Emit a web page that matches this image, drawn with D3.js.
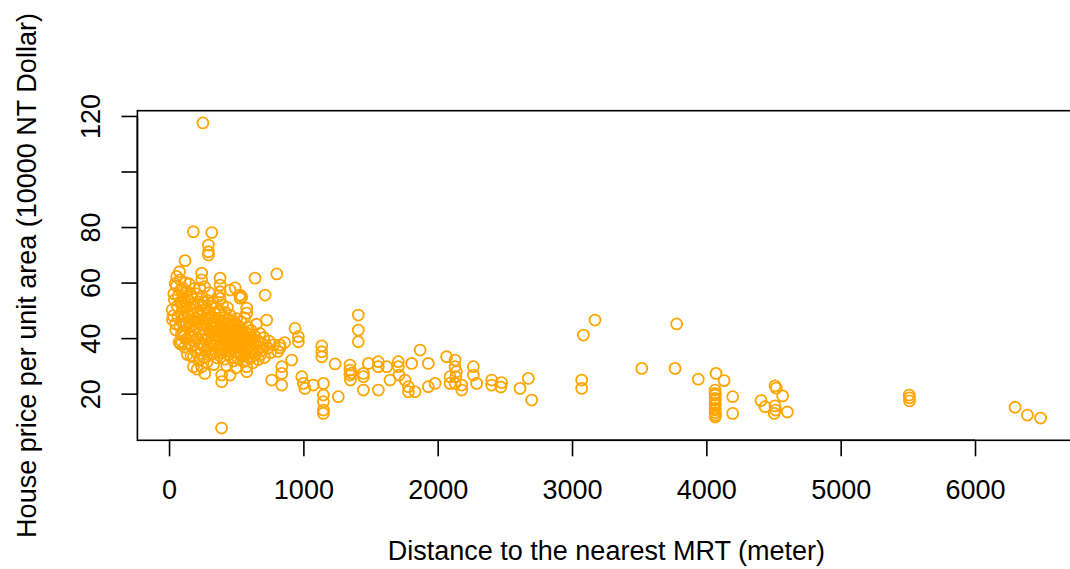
<!DOCTYPE html>
<html>
<head>
<meta charset="utf-8">
<script src="https://cdn.jsdelivr.net/npm/d3@7"></script>
<style>
  html, body { margin: 0; padding: 0; background: #fff; }
  svg text { font-family: "Liberation Sans", Arial, sans-serif; fill: #000; }
</style>
</head>
<body>
<div id="chart"></div>
<script>
// points: [distance to MRT (m), price per unit area]
var nearPoints = [
  [23,50.2],[25,46.6],[30,48.0],[35,56.0],[40,53.7],[45,59.6],[49,45.1],[50,42.9],[55,58.8],[57,62.2],
  [60,51.6],[65,47.7],[70,55.3],[75,38.5],[78,63.9],[80,44.3],[82,61.0],[84,37.9],[85,53.0],[88,57.4],
  [90,49.0],[90,41.2],[92,46.2],[95,38.7],[98,52.5],[100,58.1],[104,42.3],[105,55.2],[108,44.9],[110,50.7],
  [112,40.6],[115,36.8],[118,47.9],[119,67.9],[120,53.5],[122,60.0],[125,45.1],[128,39.6],[130,51.0],[133,56.8],
  [136,34.1],[140,48.5],[142,43.8],[145,53.8],[148,38.1],[150,59.5],[153,46.0],[156,41.1],[160,50.4],[163,33.6],
  [165,55.0],[168,44.2],[170,37.4],[172,48.8],[175,52.2],[178,40.3],[181,78.3],[181,33.3],[182,29.7],[185,46.1],
  [188,57.8],[190,42.5],[193,38.8],[195,51.2],[198,35.3],[200,47.0],[203,44.0],[205,55.9],[208,40.0],[210,28.8],
  [212,49.6],[215,36.4],[218,53.1],[220,45.7],[223,31.9],[225,42.0],[228,58.0],[230,38.2],[232,48.2],[235,34.5],
  [238,51.9],[240,44.8],[243,63.4],[243,61.0],[243,29.7],[245,40.7],[247,55.0],[250,46.5],[252,117.5],[254,37.1],
  [256,49.9],[258,33.0],[260,43.2],[262,52.8],[264,58.5],[266,27.3],[268,39.5],[270,47.4],[272,41.8],[275,35.6],
  [278,50.3],[280,44.6],[282,31.3],[285,53.6],[287,40.3],[290,37.0],[293,73.5],[293,71.1],[293,69.9],[295,46.9],
  [297,42.7],[299,56.4],[300,33.9],[302,49.1],[305,38.4],[306,42.2],[308,45.3],[310,51.5],[312,36.0],[315,41.5],
  [318,78.0],[318,47.8],[320,34.2],[322,43.5],[325,39.0],[328,53.0],[330,46.3],[332,30.5],[335,41.0],[338,48.9],
  [340,37.5],[342,44.1],[345,35.1],[348,50.8],[350,40.8],[352,45.7],[355,32.9],[358,42.4],[360,38.9],[362,47.1],
  [365,36.3],[368,55.1],[370,43.1],[372,39.7],[375,49.5],[377,37.4],[380,61.6],[380,59.1],[380,56.7],[380,54.3],
  [382,44.8],[385,34.6],[388,41.9],[390,46.0],[391,7.6],[392,26.7],[392,24.3],[395,38.1],[398,52.0],[400,42.9],
  [402,35.8],[405,47.3],[407,40.1],[410,44.7],[412,32.4],[415,37.8],[418,49.3],[420,41.3],[422,36.5],[425,45.4],
  [428,39.2],[430,30.0],[432,43.5],[435,51.0],[438,37.0],[440,41.6],[442,34.0],[445,46.6],[448,39.9],[450,43.9],
  [452,35.2],[454,57.3],[454,26.7],[456,48.2],[458,38.6],[460,42.0],[462,33.1],[465,44.7],[468,37.7],[470,40.9],
  [472,46.1],[475,36.2],[478,42.6],[480,31.8],[482,39.4],[485,45.3],[488,35.0],[490,41.1],[492,58.1],[494,37.3],
  [496,43.2],[498,29.3],[500,39.8],[503,47.0],[505,34.9],[508,41.5],[510,37.9],[512,44.5],[515,32.6],[518,40.2],
  [520,36.6],[523,43.0],[525,38.3],[527,55.5],[529,54.4],[530,34.3],[533,41.2],[535,45.9],[538,37.1],[540,33.7],
  [541,54.9],[543,39.6],[546,42.4],[548,35.8],[550,38.7],[553,31.5],[556,40.6],[558,36.9],[562,47.3],[565,39.0],
  [568,34.4],[570,42.2],[573,37.6],[575,32.0],[578,50.8],[578,49.0],[578,29.7],[578,27.9],[580,40.4],[583,36.1],
  [586,44.0],[590,38.2],[592,33.4],[595,41.3],[598,35.3],[600,39.5],[603,32.7],[606,37.2],[610,42.8],[613,34.8],
  [616,40.0],[620,36.4],[624,31.1],[628,38.7],[632,35.0],[636,40.8],[640,61.6],[642,33.8],[646,37.9],[650,45.0],
  [655,35.6],[660,39.1],[665,32.3],[670,36.8],[676,41.7],[682,34.1],[690,38.0],[698,35.7],[705,40.2],[710,33.0],
  [715,55.5],[720,37.3],[727,46.5],[735,36.4],[745,38.9],[755,34.7],[764,24.9],[780,37.6],[802,63.1],[810,35.2],
  [826,37.5],[826,36.5],[839,29.7],[839,27.3],[839,23.1],[860,38.4],[913,32.1],[938,43.5],[963,40.5],[963,38.7],
  [988,26.1],[1000,23.7],[1012,21.9],[1074,23.1]
];

var midPoints = [
  [1137,37.2],[1137,35.1],[1137,33.3],[1149,23.7],[1149,19.5],[1149,17.1],[1149,14.1],[1149,12.9],[1236,30.7],
  [1260,18.9],[1347,30.3],[1347,28.5],[1360,27.4],[1347,26.7],[1350,24.9],[1409,48.3],[1409,42.9],[1409,38.7],
  [1447,27.3],[1447,26.1],[1447,21.3],[1484,30.9],[1558,31.5],[1558,29.7],[1558,21.3],[1620,29.7],[1645,24.9],
  [1707,31.5],[1707,29.7],[1712,26.7],[1757,24.9],[1782,22.5],[1782,20.7],[1831,20.7],[1806,30.9],[1869,35.7],
  [1930,30.9],[1930,22.5],[1980,23.7],[2066,33.3],[2129,32.1],[2129,29.7],[2140,27.9],[2135,26.1],[2129,23.7],
  [2092,26.1],[2092,23.7],[2179,23.1],[2179,21.3],[2265,29.7],[2265,26.7],[2290,23.7],[2402,24.9],[2402,23.1],
  [2476,24.0],[2470,22.4],[2613,21.9],[2675,25.5],[2700,17.7],[3072,24.9],[3072,21.9],[3085,41.1],[3171,46.5],
  [3519,29.1],[3767,29.1],[3779,45.1]
];

var farPoints = [
  [3940,25.2],[4072,27.3],[4132,24.7],[4065,21.3],[4065,20.1],[4066,19.5],[4065,18.3],[4067,17.7],[4065,16.5],
  [4066,15.9],[4065,14.7],[4066,14.1],[4065,13.2],[4067,12.3],[4066,11.6],[4196,18.9],[4196,12.9],[4407,17.5],
  [4437,15.3],[4511,22.8],[4520,22.0],[4511,15.6],[4515,14.1],[4505,12.9],[4568,19.2],[4603,13.4],[5510,19.5],
  [5512,18.5],[5512,17.4],[6298,15.1],[6390,12.3],[6488,11.2]
];

var xTicks = [0, 1000, 2000, 3000, 4000, 5000, 6000];
var yTicks = [20, 40, 60, 80, 100, 120];
var yTickLabels = ["20", "40", "60", "80", "", "120"];

var points = nearPoints.concat(midPoints, farPoints);

var width = 1070, height = 569;
var plot = {left: 137.4, right: 1075.3, top: 110.7, bottom: 440.3};
var fontSize = 27;

var svg = d3.select("#chart").append("svg")
  .attr("width", width)
  .attr("height", height);

// R style limits: data range plus 4% each side
var xExt = d3.extent(points, function(d) { return d[0]; });
var yExt = d3.extent(points, function(d) { return d[1]; });
var xPad = (xExt[1] - xExt[0]) * 0.04, yPad = (yExt[1] - yExt[0]) * 0.04;

var x = d3.scaleLinear()
  .domain([xExt[0] - xPad, xExt[1] + xPad])
  .range([plot.left, plot.right]);
var y = d3.scaleLinear()
  .domain([yExt[0] - yPad, yExt[1] + yPad])
  .range([plot.bottom, plot.top]);

// points
svg.append("g").selectAll("circle")
  .data(points)
  .enter().append("circle")
    .attr("cx", function(d) { return x(d[0]); })
    .attr("cy", function(d) { return y(d[1]); })
    .attr("r", 5.5)
    .attr("fill", "none")
    .attr("stroke", "#FFA500")
    .attr("stroke-width", 1.8);

// box
svg.append("rect")
  .attr("x", plot.left)
  .attr("y", plot.top)
  .attr("width", plot.right - plot.left)
  .attr("height", plot.bottom - plot.top)
  .attr("fill", "none")
  .attr("stroke", "#000")
  .attr("stroke-width", 1.6);

// x axis
var xAxis = svg.append("g")
  .attr("transform", "translate(0," + plot.bottom + ")")
  .call(d3.axisBottom(x).tickValues(xTicks).tickSize(16).tickSizeOuter(0)
    .tickFormat(d3.format("d")));
xAxis.select(".domain").attr("d", "M" + x(0) + ",0H" + x(6000)).attr("stroke-width", 1.6);
xAxis.selectAll(".tick line").attr("stroke-width", 1.6);
xAxis.selectAll(".tick text")
  .attr("font-size", fontSize)
  .attr("font-family", "Liberation Sans, Arial, sans-serif")
  .attr("dy", null)
  .attr("y", 59);

// y axis
var yAxis = svg.append("g")
  .attr("transform", "translate(" + plot.left + ",0)")
  .call(d3.axisLeft(y).tickValues(yTicks).tickSize(16).tickSizeOuter(0)
    .tickFormat(function(d, i) { return yTickLabels[i]; }));
yAxis.select(".domain").attr("d", "M0," + y(20) + "V" + y(120)).attr("stroke-width", 1.6);
yAxis.selectAll(".tick line").attr("stroke-width", 1.6);
yAxis.selectAll(".tick text")
  .attr("font-size", fontSize)
  .attr("font-family", "Liberation Sans, Arial, sans-serif")
  .attr("x", null).attr("dy", null)
  .attr("text-anchor", "middle")
  .attr("transform", "translate(-37.4,0) rotate(-90)");

// axis titles
svg.append("text")
  .attr("x", (plot.left + plot.right) / 2)
  .attr("y", 560)
  .attr("text-anchor", "middle")
  .attr("font-size", fontSize)
  .text("Distance to the nearest MRT (meter)");

svg.append("text")
  .attr("transform", "translate(36," + (plot.top + plot.bottom) / 2 + ") rotate(-90)")
  .attr("text-anchor", "middle")
  .attr("font-size", fontSize)
  .text("House price per unit area (10000 NT Dollar)");
</script>
</body>
</html>
